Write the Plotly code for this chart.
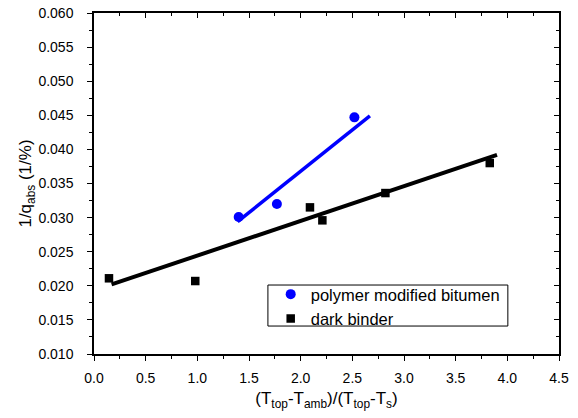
import plotly.graph_objects as go

# Data
pmb_x = [1.40, 1.77, 2.52]
pmb_y = [0.0301, 0.0320, 0.0447]
pmb_fit_x = [1.39, 2.67]
pmb_fit_y = [0.0294, 0.0449]

dark_x = [0.145, 0.98, 2.09, 2.21, 2.82, 3.83]
dark_y = [0.0211, 0.0207, 0.0315, 0.0296, 0.0336, 0.0380]
dark_fit_x = [0.17, 3.90]
dark_fit_y = [0.0202, 0.0392]

x_ticks = [0.0, 0.5, 1.0, 1.5, 2.0, 2.5, 3.0, 3.5, 4.0, 4.5]
y_ticks = [0.010, 0.015, 0.020, 0.025, 0.030, 0.035, 0.040, 0.045, 0.050, 0.055, 0.060]

FONT = "Liberation Sans, Arial, sans-serif"
BLUE = "#0000ff"

fig = go.Figure()
fig.add_trace(go.Scatter(x=pmb_fit_x, y=pmb_fit_y, mode="lines",
                         line=dict(color=BLUE, width=3.5), showlegend=False, hoverinfo="skip"))
fig.add_trace(go.Scatter(x=dark_fit_x, y=dark_fit_y, mode="lines",
                         line=dict(color="black", width=4), showlegend=False, hoverinfo="skip"))
fig.add_trace(go.Scatter(x=pmb_x, y=pmb_y, mode="markers", name="polymer modified bitumen",
                         marker=dict(color=BLUE, size=10, symbol="circle")))
fig.add_trace(go.Scatter(x=dark_x, y=dark_y, mode="markers", name="dark binder",
                         marker=dict(color="black", size=8.5, symbol="square")))
# invisible trace to anchor mirrored axes
fig.add_trace(go.Scatter(x=[0], y=[0.01], xaxis="x2", yaxis="y2", mode="markers",
                         marker=dict(opacity=0), showlegend=False, hoverinfo="skip"))

tickfont = dict(family=FONT, size=14, color="black")
fig.update_layout(
    width=578, height=418,
    margin=dict(l=86, r=27, t=5, b=72, autoexpand=False),
    paper_bgcolor="white", plot_bgcolor="white",
    font=dict(family=FONT, color="black"),
    xaxis=dict(range=[0, 4.5], tickvals=x_ticks, ticktext=[f"{v:.1f}" for v in x_ticks],
               ticks="outside", ticklen=5, tickwidth=1.2, tickcolor="black", automargin=False,
               ticklabeloverflow="allow",
               minor=dict(dtick=0.25, ticks="outside", ticklen=3, tickwidth=1.2, tickcolor="black", tick0=0),
               showline=True, linecolor="black", linewidth=1.5, showgrid=False, zeroline=False,
               tickfont=tickfont, ticklabelstandoff=5,
               title=dict(text="(T<sub>top</sub>-T<sub>amb</sub>)/(T<sub>top</sub>-T<sub>s</sub>)",
                          font=dict(family=FONT, size=17), standoff=8)),
    yaxis=dict(range=[0.010, 0.060], tickvals=y_ticks, ticktext=[f"{v:.3f}" for v in y_ticks],
               ticks="outside", ticklen=5, tickwidth=1.2, tickcolor="black", automargin=False,
               ticklabeloverflow="allow",
               minor=dict(dtick=0.0025, ticks="outside", ticklen=3, tickwidth=1.2, tickcolor="black", tick0=0.01),
               showline=True, linecolor="black", linewidth=1.5, showgrid=False, zeroline=False,
               tickfont=tickfont, ticklabelstandoff=11,
               title=dict(text="1/q<sub>abs</sub> (1/%)", font=dict(family=FONT, size=17), standoff=2)),
    xaxis2=dict(range=[0, 4.5], overlaying="x", side="top", tickvals=x_ticks, showticklabels=False,
                ticks="inside", ticklen=5, tickwidth=1.2, tickcolor="black", automargin=False,
                minor=dict(dtick=0.25, ticks="inside", ticklen=3, tickwidth=1.2, tickcolor="black", tick0=0),
                showline=True, linecolor="black", linewidth=1.5, showgrid=False, zeroline=False),
    yaxis2=dict(range=[0.010, 0.060], overlaying="y", side="right", tickvals=y_ticks, showticklabels=False,
                ticks="inside", ticklen=5, tickwidth=1.2, tickcolor="black", automargin=False,
                minor=dict(dtick=0.0025, ticks="inside", ticklen=3, tickwidth=1.2, tickcolor="black", tick0=0.01),
                showline=True, linecolor="black", linewidth=1.5, showgrid=False, zeroline=False),
    legend=dict(x=0.38, y=0.226, xanchor="left", yanchor="top",
                borderwidth=0, bgcolor="rgba(0,0,0,0)",
                font=dict(family=FONT, size=16.5, color="black"), tracegroupgap=0),
    showlegend=True,
    shapes=[dict(type="rect", xref="paper", yref="paper", x0=0.374, x1=0.890, y0=0.082, y1=0.2023,
                 line=dict(color="black", width=1), fillcolor="rgba(0,0,0,0)", layer="below")],
)

fig.write_html("out.html")
